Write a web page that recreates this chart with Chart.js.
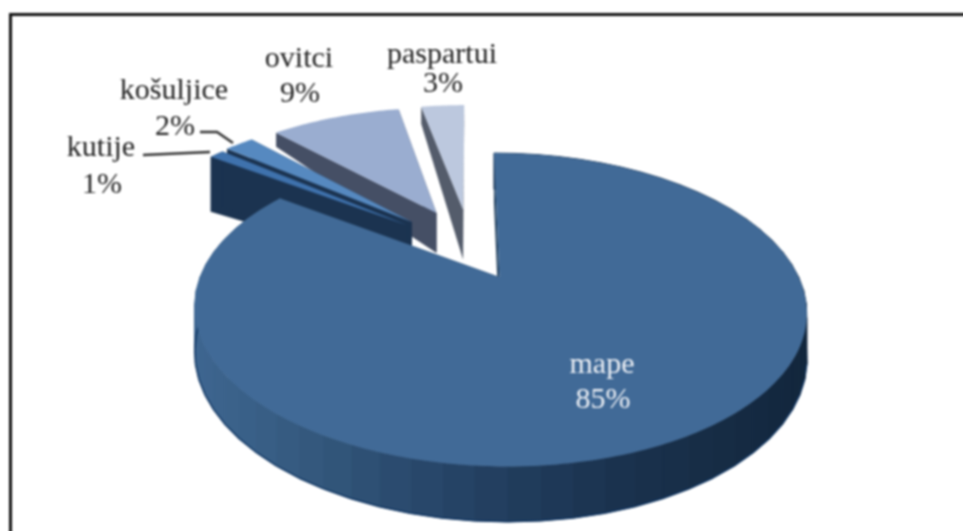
<!DOCTYPE html>
<html>
<head>
<meta charset="utf-8">
<title>mape</title>
<script src="https://cdn.jsdelivr.net/npm/chart.js@4"></script>
<style>
    html, body { margin: 0; padding: 0; background: #fff; overflow: hidden; }
    #wrap { position: relative; width: 963px; height: 531px; filter: blur(0.8px); }
    #frame { position: absolute; left: 9px; top: 13px; right: -10px; bottom: -10px; border-top: 3px solid #111; border-left: 3px solid #111; }
    canvas { position: absolute; left: 0; top: 0; }
</style>
</head>
<body>
<div id="wrap">
    <div id="frame"></div>
    <canvas id="pie" width="963" height="531"></canvas>
</div>
<script>
// data
const categories = ["mape", "kutije", "košuljice", "ovitci", "paspartui"];
const shares = [85, 1, 2, 9, 3];

// exploded distance of every slice, px
const explode = [54, 58, 58, 63, 63];
// small extra shift of the slices in the tilted view
const nudgeX = [1, -5, -5, 3, 3];
const nudgeY = [0, -2, -3, -3, -3];

const topColors = ["#416a97", "#3f72ad", "#5689c0", "#9aadd0", "#bcc8de"];
const sideColors = ["#24425f", "#1b3350", "#1b3350", "#454f65", "#545c6b"];
// height of the cut face at the pie centre and at the rim
const cutNear = [50, 45, 40, 40, 50];
const cutFar = [50, 55, 30, 14, 17];

// where the labels go: [x, first baseline]
const labelSpots = [[602, 373], [101, 156], [174, 99], [299, 67], [442, 63]];
const labelGap = [35, 37, 36, 35, 29];

// flat pie -> tilted view
const VIEW = { cx: 467, cy: 247.5, a: 137.8, b: 287, k: 0.2 };

function project(u, v) {
    const w = 1 - VIEW.k * v;
    return { x: VIEW.cx + VIEW.b * u / w, y: VIEW.cy + VIEW.a * v / w };
}

// rim colour gets darker from left to right
function rimColor(x) {
    const stops = [[195, [62, 102, 144]], [330, [50, 86, 122]], [400, [42, 74, 110]], [500, [34, 62, 94]], [620, [26, 50, 78]], [810, [18, 38, 60]]];
    for (let i = 1; i < stops.length; i++) {
        if (x <= stops[i][0]) {
            const t = Math.max(0, (x - stops[i - 1][0]) / (stops[i][0] - stops[i - 1][0]));
            const c = stops[i - 1][1].map((p, n) => Math.round(p + (stops[i][1][n] - p) * t));
            return "rgb(" + c.join(",") + ")";
        }
    }
    return "rgb(18,38,60)";
}

function drawSlice(ctx, arc, i) {
    const mid = (arc.startAngle + arc.endAngle) / 2;
    const off = arc.options.offset / arc.outerRadius;
    const ou = off * Math.cos(mid);
    const ov = off * Math.sin(mid);
    const at = ang => project(ou + Math.cos(ang), ov + Math.sin(ang));
    const apex = project(ou, ov);

    ctx.save();
    ctx.translate(nudgeX[i], nudgeY[i]);

    // cut faces
    [arc.startAngle, arc.endAngle].forEach(function (ang) {
        const p = at(ang);
        ctx.beginPath();
        ctx.moveTo(p.x, p.y);
        ctx.lineTo(apex.x, apex.y);
        ctx.lineTo(apex.x, apex.y + cutNear[i]);
        ctx.lineTo(p.x, p.y + cutFar[i]);
        ctx.closePath();
        ctx.fillStyle = sideColors[i];
        ctx.fill();
    });

    // rim, cut into flat facets (main slice only faces the viewer)
    if (i === 0) {
        const step = 5 * Math.PI / 180;
        for (let ang = arc.startAngle; ang < arc.endAngle; ang += step) {
            const next = Math.min(ang + step, arc.endAngle);
            const p = at(ang);
            const q = at(next);
            const dp = 42 / (1 - VIEW.k * (ov + Math.sin(ang)));
            const dq = 42 / (1 - VIEW.k * (ov + Math.sin(next)));
            const color = rimColor((p.x + q.x) / 2);
            ctx.beginPath();
            ctx.moveTo(p.x, p.y);
            ctx.lineTo(q.x, q.y);
            ctx.lineTo(q.x, q.y + dq);
            ctx.lineTo(p.x, p.y + dp);
            ctx.closePath();
            ctx.fillStyle = color;
            ctx.strokeStyle = color;
            ctx.lineWidth = 1;
            ctx.fill();
            ctx.stroke();
            if (Math.sin(ang) > -0.1) {
                ctx.beginPath();
                ctx.moveTo(p.x, p.y + dp);
                ctx.lineTo(q.x, q.y + dq);
                ctx.strokeStyle = "#0f3562";
                ctx.lineWidth = 1.5;
                ctx.stroke();
            }
        }
    } else if (i === 1) {
        const p = at(arc.startAngle);
        const q = at(arc.endAngle);
        ctx.beginPath();
        ctx.moveTo(p.x, p.y);
        ctx.lineTo(q.x, q.y);
        ctx.lineTo(q.x, q.y + cutFar[i]);
        ctx.lineTo(p.x, p.y + cutFar[i]);
        ctx.closePath();
        ctx.fillStyle = sideColors[i];
        ctx.fill();
    }

    // top face
    ctx.beginPath();
    ctx.moveTo(apex.x, apex.y);
    const n = Math.max(4, Math.ceil((arc.endAngle - arc.startAngle) * 60));
    for (let s = 0; s <= n; s++) {
        const p = at(arc.startAngle + (arc.endAngle - arc.startAngle) * s / n);
        ctx.lineTo(p.x, p.y);
    }
    ctx.closePath();
    ctx.fillStyle = topColors[i];
    ctx.fill();
    ctx.restore();
}

function drawLabels(ctx) {
    ctx.font = '30px "Liberation Serif"';
    ctx.textAlign = "center";
    ctx.textBaseline = "alphabetic";
    categories.forEach(function (name, i) {
        ctx.fillStyle = i === 0 ? "#eef1f6" : "#222";
        ctx.fillText(name, labelSpots[i][0], labelSpots[i][1]);
        ctx.fillText(shares[i] + "%", labelSpots[i][0] + 1, labelSpots[i][1] + labelGap[i]);
    });

    // leader lines of the two small slices
    ctx.strokeStyle = "#333";
    ctx.lineWidth = 2.5;
    ctx.beginPath();
    ctx.moveTo(143, 155);
    ctx.lineTo(210, 152);
    ctx.moveTo(200, 132);
    ctx.lineTo(217, 132);
    ctx.lineTo(233, 143);
    ctx.stroke();
}

// tilted 3D look, the slice geometry comes from the pie's own arc elements
const tiltedPie = {
    id: "tiltedPie",
    beforeDatasetsDraw(chart) {
        const arcs = chart.getDatasetMeta(0).data;
        const ctx = chart.ctx;
        ctx.save();
        for (let i = arcs.length - 1; i >= 0; i--) {
            drawSlice(ctx, arcs[i], i);
        }
        drawLabels(ctx);
        ctx.restore();
        return false;
    }
};

new Chart(document.getElementById("pie").getContext("2d"), {
    type: "pie",
    data: {
        labels: categories,
        datasets: [{
            data: shares,
            backgroundColor: topColors,
            offset: explode,
            borderWidth: 0
        }]
    },
    options: {
        responsive: false,
        animation: false,
        plugins: { legend: { display: false }, tooltip: { enabled: false } }
    },
    plugins: [tiltedPie]
});
</script>
</body>
</html>
